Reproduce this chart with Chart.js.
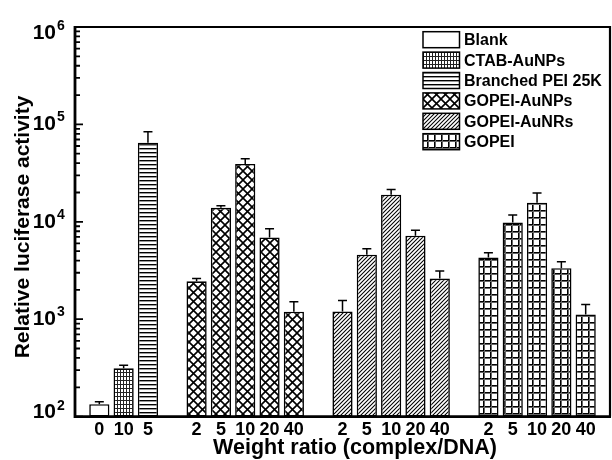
<!DOCTYPE html>
<html>
<head>
<meta charset="utf-8">
<script src="https://cdn.jsdelivr.net/npm/chart.js@4.4.1/dist/chart.umd.min.js"></script>
<style>
  html, body { margin: 0; padding: 0; background: #fff; }
  #wrap { width: 612px; height: 460px; }
</style>
</head>
<body>
<div id="wrap"><canvas id="myChart"></canvas></div>
<script>
// x categories (empty strings are the gaps between groups)
const weightLabels = ['', '0', '10', '5', '', '2', '5', '10', '20', '40', '', '2', '5', '10', '20', '40', '', '2', '5', '10', '20', '40', ''];

const seriesNames = ['Blank', 'CTAB-AuNPs', 'Branched PEI 25K', 'GOPEI-AuNPs', 'GOPEI-AuNRs', 'GOPEI'];
const seriesStart = [1, 2, 3, 5, 11, 17];   // index in weightLabels where each series begins

const blankVals = [134];
const ctabVals = [313];
const bpeiVals = [64900];
const aunpsVals = [2450, 13900, 39300, 6900, 1194];
const aunrsVals = [1200, 4590, 19000, 7200, 2610];
const gopeiVals = [4310, 9840, 15700, 3340, 1117];

// upper error (SD)
const blankErr = [8];
const ctabErr = [23];
const bpeiErr = [19000];
const aunpsErr = [160, 700, 5200, 1600, 320];
const aunrsErr = [360, 710, 2400, 970, 520];
const gopeiErr = [510, 1900, 4000, 550, 300];

const yTickExps = [2, 3, 4, 5, 6];

const allVals = [blankVals, ctabVals, bpeiVals, aunpsVals, aunrsVals, gopeiVals];
const allErrs = [blankErr, ctabErr, bpeiErr, aunpsErr, aunrsErr, gopeiErr];

const canvas = document.querySelector('#myChart');
const ctx = canvas.getContext('2d');
const FONT = '"Liberation Sans", Arial, sans-serif';

function makePattern(w, h, draw) {
  const c = document.createElement('canvas');
  c.width = w; c.height = h;
  const g = c.getContext('2d');
  g.fillStyle = '#fff';
  g.fillRect(0, 0, w, h);
  g.fillStyle = '#000';
  g.strokeStyle = '#000';
  draw(g);
  return ctx.createPattern(c, 'repeat');
}

const fills = [
  '#ffffff',
  makePattern(3, 4, g => { g.fillStyle = '#222'; g.fillRect(0, 0, 3, 1); g.fillRect(0, 0, 1, 4); }),
  makePattern(4, 4, g => { g.fillRect(0, 0, 4, 1); g.fillStyle = '#999'; g.fillRect(0, 1, 4, 1); }),
  makePattern(9, 9, g => {
    g.lineWidth = 1.6;
    g.beginPath();
    g.moveTo(-1, -1); g.lineTo(10, 10);
    g.moveTo(-1, 10); g.lineTo(10, -1);
    g.stroke();
  }),
  makePattern(4, 4, g => {
    g.lineWidth = 1.05;
    g.beginPath();
    g.moveTo(-1, 5); g.lineTo(5, -1);
    g.moveTo(-1, 1); g.lineTo(1, -1);
    g.moveTo(3, 5); g.lineTo(5, 3);
    g.stroke();
  }),
  makePattern(7, 7, g => {
    g.fillRect(0, 0, 7, 1); g.fillRect(0, 0, 1, 7);
    g.fillStyle = '#666';
    g.fillRect(0, 1, 7, 1); g.fillRect(1, 0, 1, 7);
  })
];

const datasets = seriesNames.map((name, i) => {
  const data = weightLabels.map(() => null);
  allVals[i].forEach((v, k) => { data[seriesStart[i] + k] = v; });
  return {
    label: name,
    data: data,
    backgroundColor: fills[i],
    borderColor: '#000',
    borderWidth: 1.6,
    borderSkipped: false,
    grouped: false,
    barPercentage: 0.83,
    categoryPercentage: 1
  };
});

const decor = {
  id: 'decor',
  afterDatasetsDraw(chart) {
    const y = chart.scales.y;
    const g = chart.ctx;
    g.save();
    g.strokeStyle = '#000';
    g.lineWidth = 1.5;
    chart.data.datasets.forEach((ds, i) => {
      const meta = chart.getDatasetMeta(i);
      allVals[i].forEach((v, k) => {
        const bar = meta.data[seriesStart[i] + k];
        const top = y.getPixelForValue(v);
        const end = y.getPixelForValue(v + allErrs[i][k]);
        g.beginPath();
        g.moveTo(bar.x, top); g.lineTo(bar.x, end);
        g.moveTo(bar.x - 4.5, end); g.lineTo(bar.x + 4.5, end);
        g.stroke();
      });
    });
    g.restore();
  },
  afterDraw(chart) {
    const a = chart.chartArea;
    const y = chart.scales.y;
    const g = chart.ctx;
    g.save();
    // frame
    g.strokeStyle = '#000';
    g.lineWidth = 2.2;
    g.beginPath();
    g.moveTo(a.left, a.top); g.lineTo(a.right, a.top); g.lineTo(a.right, a.bottom);
    g.stroke();
    g.lineWidth = 2.8;
    g.beginPath();
    g.moveTo(a.left, a.top - 1); g.lineTo(a.left, a.bottom); g.lineTo(a.right + 1, a.bottom);
    g.stroke();
    // inward log ticks
    g.lineWidth = 1.8;
    g.beginPath();
    for (let e = 2; e < 6; e++) {
      for (let m = 1; m < 10; m++) {
        const py = y.getPixelForValue(m * Math.pow(10, e));
        g.moveTo(a.left, py); g.lineTo(a.left + (m === 1 ? 8 : 5), py);
      }
    }
    const p6 = y.getPixelForValue(1e6);
    g.moveTo(a.left, p6); g.lineTo(a.left + 8, p6);
    g.stroke();
    // y tick labels 10^n
    g.fillStyle = '#000';
    yTickExps.forEach(e => {
      let py = y.getPixelForValue(Math.pow(10, e));
      if (e === 6) py += 6;
      if (e === 2) py -= 4;
      g.font = 'bold 21px ' + FONT;
      g.textAlign = 'right';
      g.textBaseline = 'middle';
      g.fillText('10', 56, py);
      g.font = 'bold 14px ' + FONT;
      g.textAlign = 'left';
      g.textBaseline = 'alphabetic';
      g.fillText(String(e), 57, py - 3);
    });
    // axis titles
    g.font = 'bold 21.5px ' + FONT;
    g.textAlign = 'center';
    g.textBaseline = 'middle';
    g.fillText('Weight ratio (complex/DNA)', 355, 448);
    g.save();
    g.translate(23, 227);
    g.rotate(-Math.PI / 2);
    g.font = 'bold 21px ' + FONT;
    g.fillText('Relative luciferase activity', 0, 0);
    g.restore();
    // legend
    g.font = 'bold 16px ' + FONT;
    g.textAlign = 'left';
    g.textBaseline = 'middle';
    chart.data.datasets.forEach((ds, i) => {
      const cy = 39.7 + i * 20.4;
      g.fillStyle = ds.backgroundColor;
      g.fillRect(423, cy - 8, 36.5, 16);
      g.lineWidth = 1.5;
      g.strokeStyle = '#000';
      g.strokeRect(423, cy - 8, 36.5, 16);
      g.fillStyle = '#000';
      g.fillText(ds.label, 464, cy + 1);
    });
    g.restore();
  }
};

new Chart(canvas, {
  type: 'bar',
  data: { labels: weightLabels, datasets: datasets },
  options: {
    responsive: true,
    maintainAspectRatio: false,
    animation: false,
    layout: { padding: { top: 27, right: 2, left: 0, bottom: 0 } },
    plugins: { legend: { display: false }, tooltip: { enabled: false } },
    scales: {
      x: {
        type: 'category',
        offset: false,
        grid: { display: false },
        border: { display: false },
        ticks: {
          autoSkip: false, maxRotation: 0, padding: -5,
          color: '#000', font: { family: FONT, size: 18, weight: 'bold' }
        },
        afterFit: s => { s.height = 43.4; }
      },
      y: {
        type: 'logarithmic',
        min: 100,
        max: 1000000,
        grid: { display: false },
        border: { display: false },
        ticks: { display: false },
        afterFit: s => { s.width = 75; }
      }
    }
  },
  plugins: [decor]
});
</script>
</body>
</html>
